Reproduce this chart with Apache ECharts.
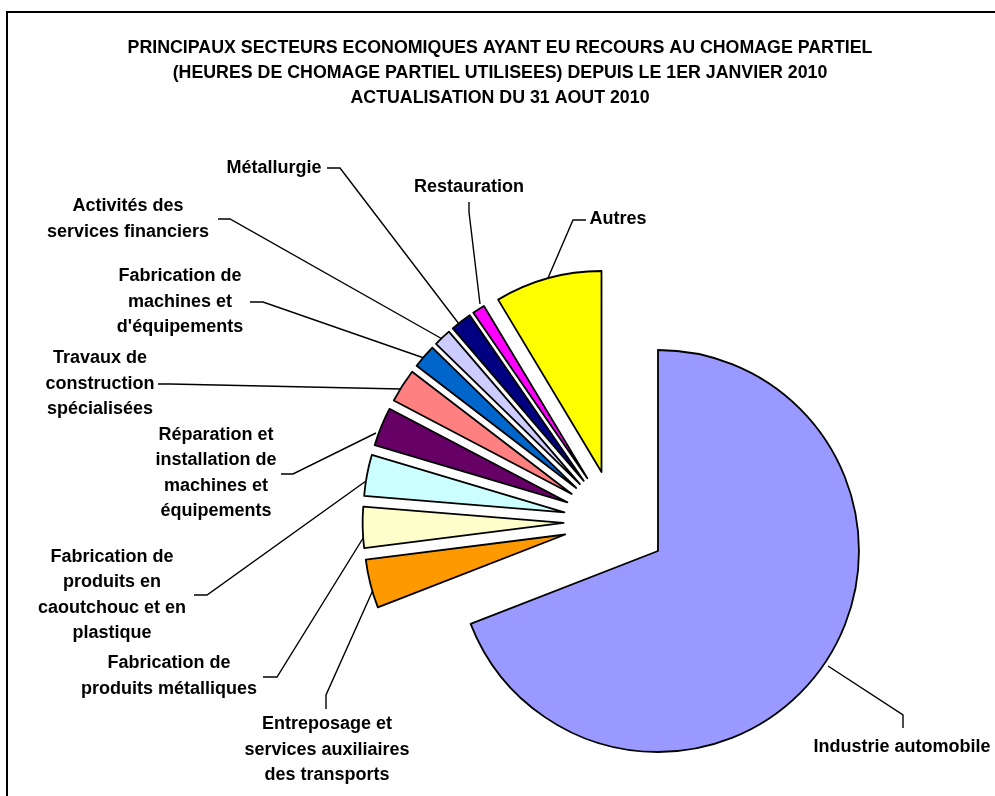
<!DOCTYPE html>
<html>
<head>
<meta charset="utf-8">
<script src="https://cdn.jsdelivr.net/npm/echarts@6/dist/echarts.min.js"></script>
<style>
html,body{margin:0;padding:0;background:#fff;}
#chart{width:995px;height:796px;}
</style>
</head>
<body>
<div id="chart"></div>
<script>
// ---- data ----
const titleLines = [
  'PRINCIPAUX SECTEURS ECONOMIQUES AYANT EU RECOURS AU CHOMAGE PARTIEL',
  '(HEURES DE CHOMAGE PARTIEL UTILISEES) DEPUIS LE 1ER JANVIER 2010',
  'ACTUALISATION DU 31 AOUT 2010'
];
const categories = [
  'Industrie automobile',
  'Entreposage et\nservices auxiliaires\ndes transports',
  'Fabrication de\nproduits métalliques',
  'Fabrication de\nproduits en\ncaoutchouc et en\nplastique',
  'Réparation et\ninstallation de\nmachines et\néquipements',
  'Travaux de\nconstruction\nspécialisées',
  'Fabrication de\nmachines et\nd\'équipements',
  'Activités des\nservices financiers',
  'Métallurgie',
  'Restauration',
  'Autres'
];
// share of partial-unemployment hours (%)
const values = [69.1, 3.9, 3.3, 3.3, 3.1, 2.7, 1.9, 1.4, 1.7, 1.0, 8.6];

// ---- styles / layout ----
const colors = ['#9999FF', '#FF9900', '#FFFFCC', '#CCFFFF', '#660066', '#FF8080',
                '#0066CC', '#CCCCFF', '#000080', '#FF00FF', '#FFFF00'];
// label text centre and leader-line points [slice, bend, label]
const labelPos = [
  {x: 902, y: 747, line: [[828, 666], [903, 715], [903, 728]]},
  {x: 327, y: 750, line: [[373, 590], [326, 695], [326, 709]]},
  {x: 169, y: 676, line: [[365, 535], [277, 677], [263, 677]]},
  {x: 112, y: 595, line: [[366, 481], [207, 595], [194, 595]]},
  {x: 216, y: 473, line: [[376, 433], [293, 474], [281, 474]]},
  {x: 100, y: 384, line: [[401, 389], [170, 384], [158, 384]]},
  {x: 180, y: 302, line: [[424, 358], [263, 302], [250, 302]]},
  {x: 128, y: 219, line: [[444, 340], [230, 219], [218, 219]]},
  {x: 274, y: 168, line: [[459, 324], [340, 168], [327, 168]]},
  {x: 469, y: 187, line: [[480, 304], [469, 212], [469, 202]]},
  {x: 618, y: 219, line: [[548, 278], [573, 220], [586, 220]]}
];

const chart = echarts.init(document.getElementById('chart'), null, {renderer: 'canvas'});
const FONT = '"Liberation Sans", Arial, sans-serif';
const CENTER = [615.3, 521.8];
const RADIUS = 201;

chart.setOption({
  animation: false,
  backgroundColor: '#ffffff',
  title: {
    text: titleLines.join('\n'),
    left: 495,
    top: 31,
    textAlign: 'center',
    textStyle: {fontFamily: FONT, fontSize: 17.8, fontWeight: 'bold', color: '#000', lineHeight: 25}
  },
  graphic: [{
    type: 'polyline',
    shape: {points: [[7, 800], [7, 12], [1000, 12]]},
    style: {stroke: '#000', lineWidth: 2, fill: null},
    silent: true
  }],
  series: [{
    // exploded slices
    type: 'pie',
    center: CENTER,
    radius: RADIUS,
    startAngle: 90,
    clockwise: true,
    selectedMode: 'multiple',
    selectedOffset: 51.7,
    avoidLabelOverlap: false,
    emphasis: {disabled: true},
    itemStyle: {borderColor: '#000', borderWidth: 1.8},
    select: {itemStyle: {borderColor: '#000', borderWidth: 1.8}},
    label: {show: false},
    labelLine: {show: false},
    z: 2,
    data: categories.map((c, i) => ({
      name: c,
      value: values[i],
      selected: true,
      itemStyle: {color: colors[i]}
    }))
  }, {
    // label carrier (same data, invisible slices)
    type: 'pie',
    center: CENTER,
    radius: RADIUS,
    startAngle: 90,
    clockwise: true,
    silent: true,
    avoidLabelOverlap: false,
    emphasis: {disabled: true},
    itemStyle: {color: 'rgba(0,0,0,0)', borderWidth: 0},
    z: 1,
    label: {
      show: true,
      formatter: '{b}',
      fontFamily: FONT,
      fontSize: 18,
      fontWeight: 'bold',
      color: '#000',
      lineHeight: 25.5,
      align: 'center'
    },
    labelLine: {show: true, lineStyle: {color: '#000', width: 1.4}},
    labelLayout: function (p) {
      const lp = labelPos[p.dataIndex];
      return {
        x: lp.x, y: lp.y, align: 'center', verticalAlign: 'middle',
        labelLinePoints: lp.line
      };
    },
    data: categories.map((c, i) => ({name: c, value: values[i]}))
  }]
});
</script>
</body>
</html>
